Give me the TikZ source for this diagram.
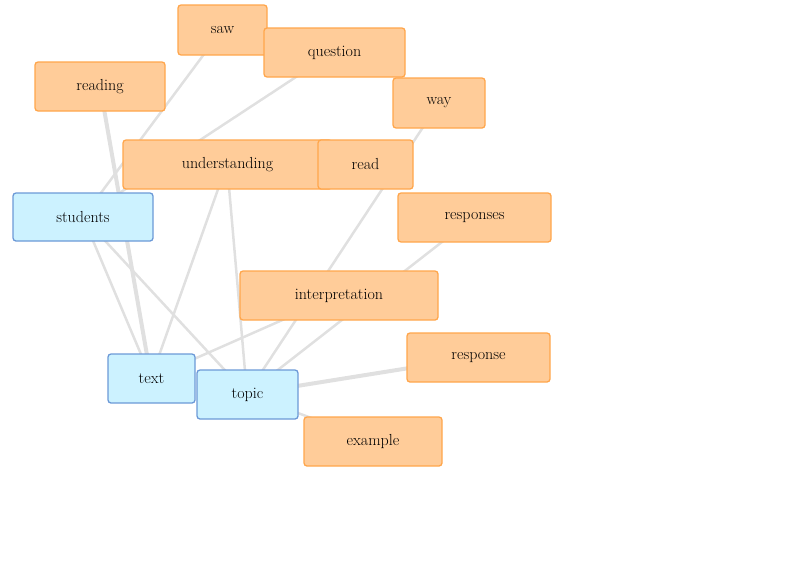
\documentclass[tikz,border=0pt]{standalone}
\begin{document}
\begin{tikzpicture}[x=1pt,y=-1pt,
  base/.style={draw, line width=1.3pt, rounded corners=3pt, inner sep=0pt, font=\fontsize{16}{19}\selectfont},
  ora/.style={base, fill=orange!40!white, draw=orange!70!white},
  blu/.style={base, fill=blue!25!cyan!20!white, draw=cyan!50!blue!60!white},
  ed/.style={draw=black!12, line width=2.5pt},
  edt/.style={draw=black!12, line width=4pt}]
\useasboundingbox (0,0) rectangle (800,576);
\def\nd#1#2#3#4#5#6#7{\node[#1, minimum width=#4-#3, minimum height=#6-#5] (#2) at ({(#3+#4)/2},{(#5+#6)/2}) {#7};}
% coordinates for edges
\coordinate (saw) at (222,30);
\coordinate (question) at (334,52);
\coordinate (reading) at (100,86);
\coordinate (way) at (439,103);
\coordinate (understanding) at (227,164);
\coordinate (students) at (83,217);
\coordinate (responses) at (474,217);
\coordinate (interpretation) at (339,295);
\coordinate (response) at (478,357);
\coordinate (text) at (151,378);
\coordinate (topic) at (247,394);
\coordinate (example) at (373,441);
\draw[ed] (saw) -- (students);
\draw[ed] (question) -- (students);
\draw[edt] (reading) -- (text);
\draw[ed] (way) -- (topic);
\draw[ed] (responses) -- (topic);
\draw[ed] (interpretation) -- (text);
\draw[ed] (understanding) -- (text);
\draw[ed] (understanding) -- (topic);
\draw[ed] (students) -- (text);
\draw[ed] (students) -- (topic);
\draw[edt] (response) -- (topic);
\draw[ed] (example) -- (topic);
\nd{ora}{n1}{178}{267}{5}{55}{saw}
\nd{ora}{n2}{264}{405}{28}{77}{question}
\nd{ora}{n3}{35}{165}{62}{111}{reading}
\nd{ora}{n4}{393}{485}{78}{128}{way}
\nd{ora}{n5}{123}{332}{140}{189}{understanding}
\nd{ora}{n6}{318}{413}{140}{189}{read}
\nd{blu}{n7}{13}{153}{193}{241}{students}
\nd{ora}{n8}{398}{551}{193}{242}{responses}
\nd{ora}{n9}{240}{438}{271}{320}{interpretation}
\nd{ora}{n10}{407}{550}{333}{382}{response}
\nd{blu}{n11}{108}{195}{354}{403}{text}
\nd{blu}{n12}{197}{298}{370}{419}{topic}
\nd{ora}{n13}{304}{442}{417}{466}{example}
\end{tikzpicture}
\end{document}
